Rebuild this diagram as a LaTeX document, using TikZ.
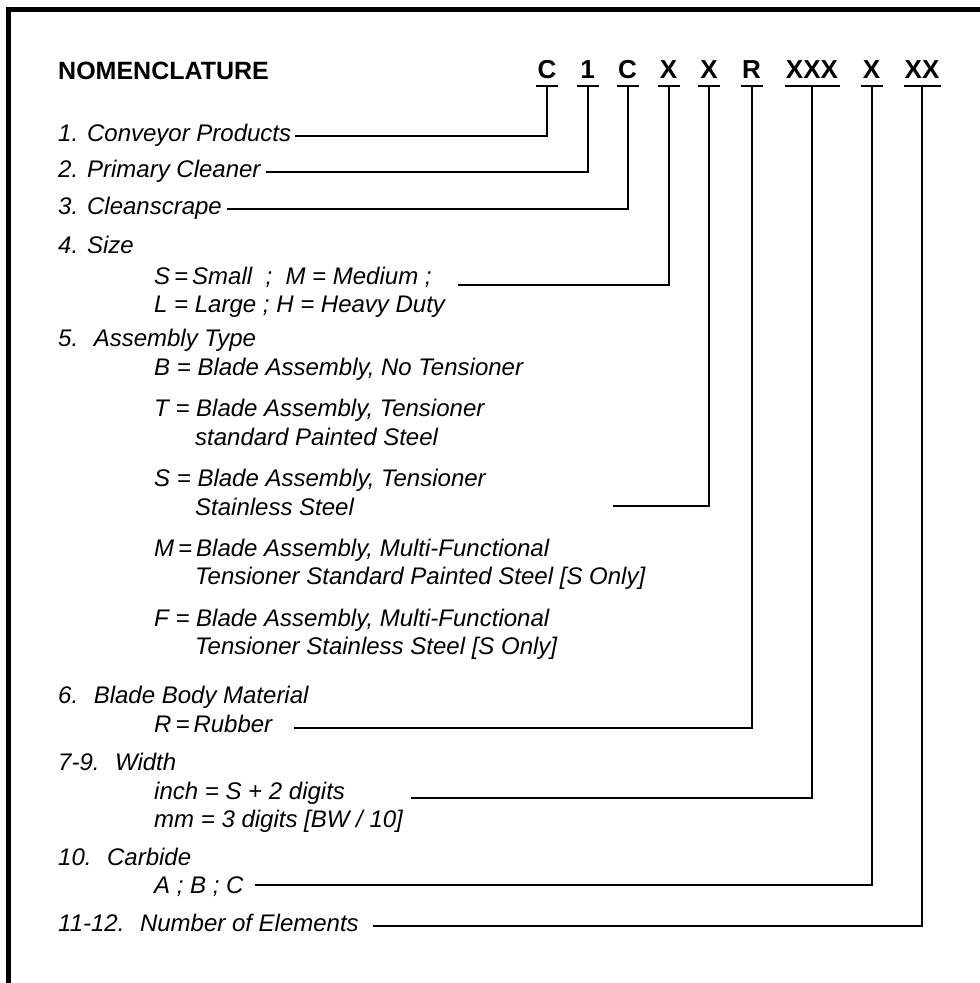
\documentclass[tikz,border=0pt]{standalone}
\usepackage{fontspec}
\setmainfont{Liberation Sans}
\begin{document}
\begin{tikzpicture}[x=1pt,y=-1pt,
  lbl/.style={anchor=base west, inner sep=0pt, font=\fontsize{24}{28}\selectfont\itshape},
  code/.style={anchor=base, inner sep=0pt, font=\fontsize{26}{30}\selectfont\bfseries},
  title/.style={anchor=base west, inner sep=0pt, font=\fontsize{25}{30}\selectfont\bfseries},
  ul/.style={line width=2pt},
  lead/.style={line width=2pt, line join=miter},
  frameline/.style={line width=5pt, line join=miter}]
\useasboundingbox (0,0) rectangle (980,983);
\draw[frameline] (8,983) -- (8,9) -- (980,9);

\node[title] (title) at (58,79) {NOMENCLATURE};

% code letters with underlines
\foreach \nm/\x/\t/\w in {uCa/547/C/22, uOne/587.5/1/22, uCb/627.5/C/22, uXa/668.5/X/22, uXb/709/X/22, uR/751.5/R/22, uXXX/812/XXX/55, uXc/871.5/X/22, uXX/922/XX/37} {
  \node[code] (t\nm) at (\x,78.5) {\t};
  \coordinate (\nm) at (\x,86);
  \draw[ul] ({\x-\w/2},86) -- ({\x+\w/2},86);
}

% labels
\node[lbl] (l1) at (58,141) {1. Conveyor Products};
\node[lbl] (l2) at (58,177) {2. Primary Cleaner};
\node[lbl] (l3) at (58,214) {3. Cleanscrape};
\node[lbl] (l4) at (58,253) {4. Size};
\node[lbl] (l4a) at (154,284) {S\,=\,Small \ ; \ M = Medium ;};
\node[lbl] (l4b) at (154,312) {L = Large ; H = Heavy Duty};
\node[lbl] (l5) at (58,346) {5. \ Assembly Type};
\node[lbl] (l5b) at (154,375) {B = Blade Assembly, No Tensioner};
\node[lbl] (l5t) at (154,416.5) {T = Blade Assembly, Tensioner};
\node[lbl] (l5t2) at (195,445) {standard Painted Steel};
\node[lbl] (l5s) at (154,486.5) {S = Blade Assembly, Tensioner};
\node[lbl] (l5s2) at (195,515) {Stainless Steel};
\node[lbl] (l5m) at (154,556.5) {M\,=\,Blade Assembly, Multi-Functional};
\node[lbl] (l5m2) at (195,584) {Tensioner Standard Painted Steel [S Only]};
\node[lbl] (l5f) at (154,626.5) {F = Blade Assembly, Multi-Functional};
\node[lbl] (l5f2) at (195,654) {Tensioner Stainless Steel [S Only]};
\node[lbl] (l6) at (58,703) {6. \ Blade Body Material};
\node[lbl] (l6r) at (154,732.5) {R\,=\,Rubber};
\node[lbl] (l7) at (58,770.5) {7-9. \ Width};
\node[lbl] (l7a) at (154,799) {inch = S + 2 digits};
\node[lbl] (l7b) at (154,827.5) {mm = 3 digits [BW / 10]};
\node[lbl] (l10) at (58,865.5) {10. \ Carbide};
\node[lbl] (l10a) at (154,893) {A ; B ; C};
\node[lbl] (l11) at (58,931) {11-12. \ Number of Elements};

% leader start points
\coordinate (s1) at (295,136);
\coordinate (s2) at (265.7,171.7);
\coordinate (s3) at (226.7,208.7);
\coordinate (s4) at (457.7,285);
\coordinate (s5) at (612.7,505.7);
\coordinate (s6) at (294.3,728.3);
\coordinate (s7) at (411,797.7);
\coordinate (s10) at (255.3,885);
\coordinate (s11) at (372.7,926.3);

\draw[lead] (s1) -| (uCa);
\draw[lead] (s2) -| (uOne);
\draw[lead] (s3) -| (uCb);
\draw[lead] (s4) -| (uXa);
\draw[lead] (s5) -| (uXb);
\draw[lead] (s6) -| (uR);
\draw[lead] (s7) -| (uXXX);
\draw[lead] (s10) -| (uXc);
\draw[lead] (s11) -| (uXX);
\end{tikzpicture}
\end{document}
